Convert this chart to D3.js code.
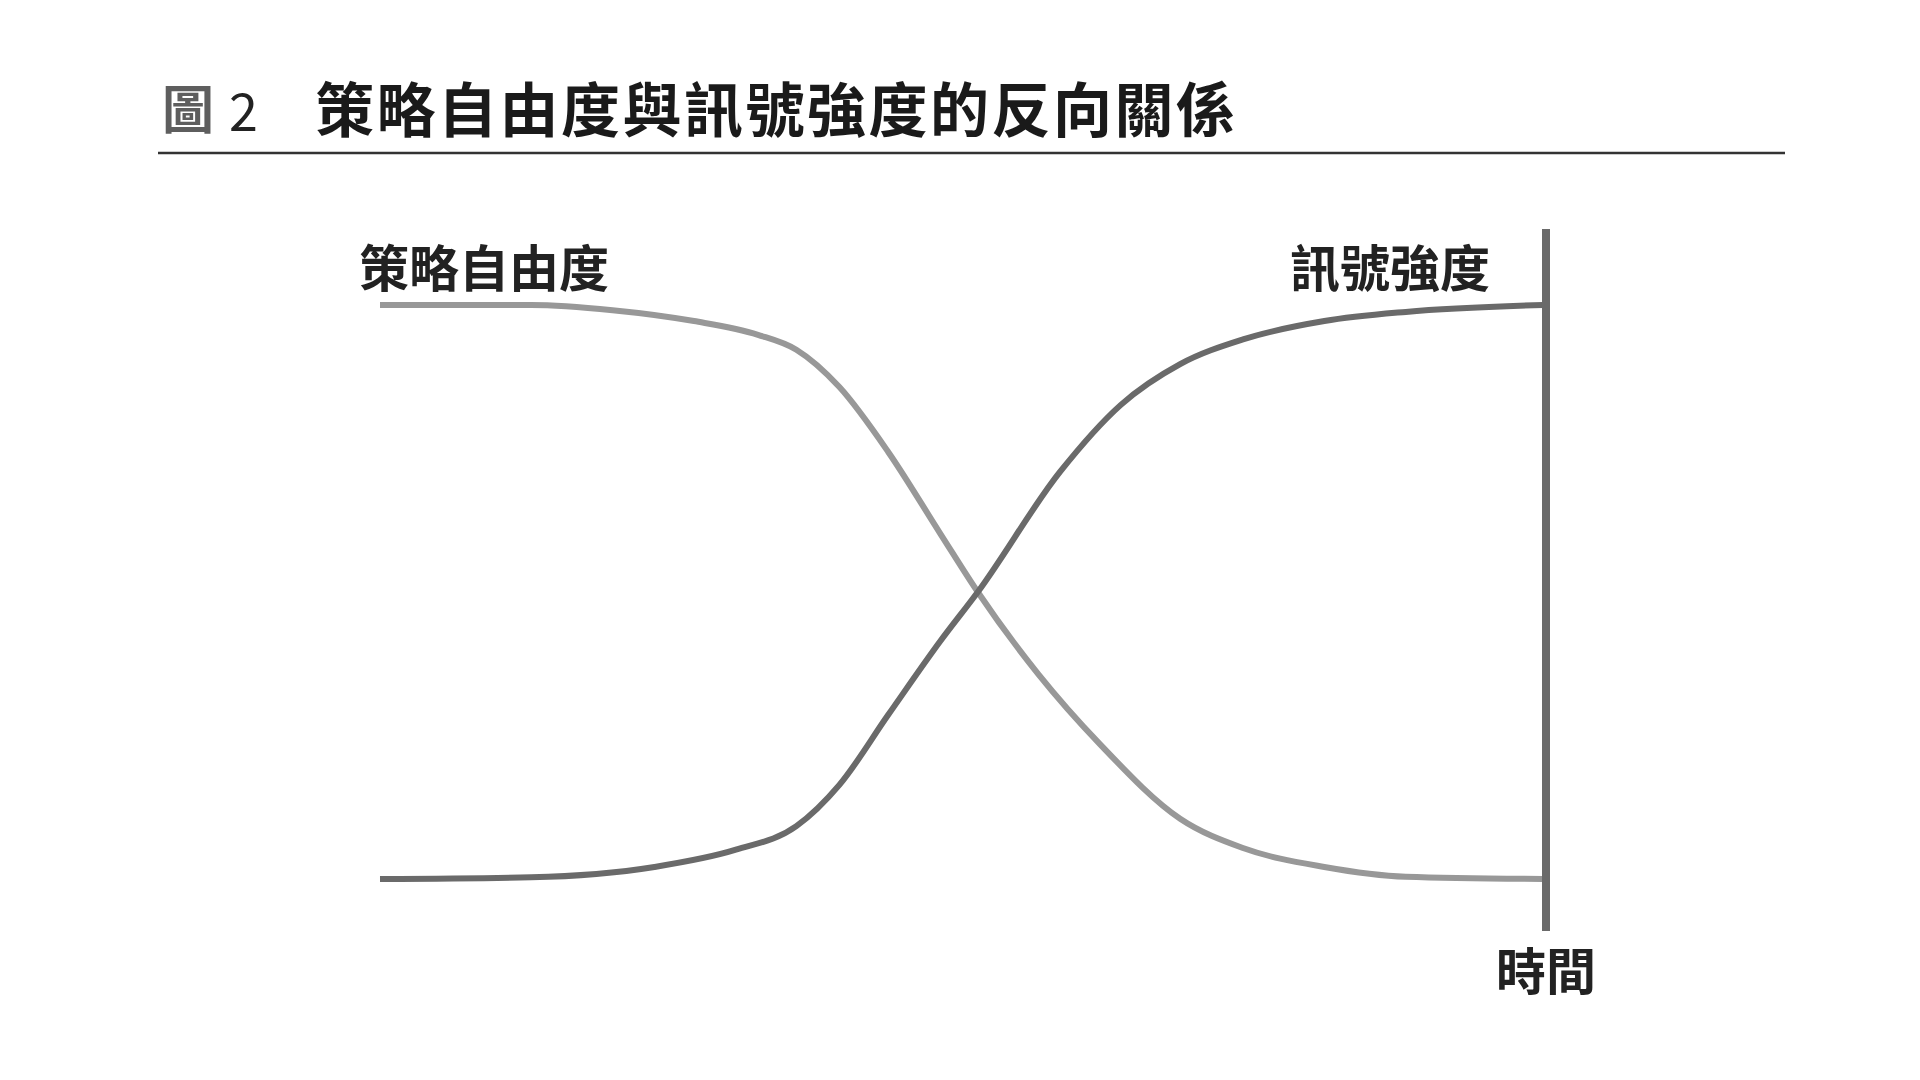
<!DOCTYPE html>
<html>
<head>
<meta charset="utf-8">
<script src="https://cdn.jsdelivr.net/npm/d3@7"></script>
<style>
  html, body { margin: 0; padding: 0; background: #fff; }
  svg { display: block; }
  text { font-family: "Noto Sans CJK TC", "Noto Sans", sans-serif; }
</style>
</head>
<body>
<svg id="chart" width="1920" height="1080"></svg>
<script>
// figure texts
const figMark = "圖";
const figNumber = "2";
const figTitle = "策略自由度與訊號強度的反向關係";
const seriesNames = ["策略自由度", "訊號強度"];
const timeLabel = "時間";

// values (time 0-100, level 0-100)
const freedomTime  = [0, 13, 20, 27, 32.5, 35.8, 39.5, 43.7, 48.2, 51.4, 56.6, 61.9, 68.8, 74.2, 81.2, 88.2, 100];
const freedomLevel = [100, 100, 99.1, 97.2, 94.8, 92.2, 85.7, 74.4, 60.1, 50, 35.7, 23.5, 10.5, 5.4, 2.1, 0.4, 0];

const signalTime  = [0, 13, 23.6, 30.6, 35.8, 39.5, 43.7, 48.2, 51.4, 58.5, 63.7, 68.8, 74.2, 81.2, 88.2, 100];
const signalLevel = [0, 0.3, 2.1, 5.1, 9.2, 16.4, 28.6, 41.5, 50, 71, 82.6, 89.7, 94, 97.2, 98.8, 100];

const WIDTH = 1920;
const HEIGHT = 1080;

const svg = d3.select("#chart");

const x = d3.scaleLinear().domain([0, 100]).range([380, 1543]);
const y = d3.scaleLinear().domain([0, 100]).range([879, 305]);

// title row
svg.append("text")
  .attr("x", 162)
  .attr("y", 106)
  .attr("dominant-baseline", "central")
  .attr("font-size", 52)
  .attr("font-weight", 700)
  .attr("fill", "#5e5e5e")
  .text(figMark);

svg.append("text")
  .attr("x", 229)
  .attr("y", 108)
  .attr("dominant-baseline", "central")
  .attr("font-family", "'Liberation Sans', Arial, sans-serif")
  .attr("font-size", 52)
  .attr("fill", "#222")
  .text(figNumber);

svg.append("text")
  .attr("x", 315)
  .attr("y", 106)
  .attr("dominant-baseline", "central")
  .attr("font-size", 59)
  .attr("font-weight", 700)
  .attr("letter-spacing", 2.5)
  .attr("fill", "#1a1a1a")
  .text(figTitle);

svg.append("line")
  .attr("x1", 158).attr("x2", 1785)
  .attr("y1", 153).attr("y2", 153)
  .attr("stroke", "#333")
  .attr("stroke-width", 2.5);

// curves
const line = d3.line()
  .x(d => x(d[0]))
  .y(d => y(d[1]))
  .curve(d3.curveMonotoneX);

const freedom = d3.zip(freedomTime, freedomLevel);
const signal = d3.zip(signalTime, signalLevel);

svg.append("path")
  .datum(freedom)
  .attr("d", line)
  .attr("fill", "none")
  .attr("stroke", "#989898")
  .attr("stroke-width", 6);

svg.append("path")
  .datum(signal)
  .attr("d", line)
  .attr("fill", "none")
  .attr("stroke", "#6a6a6a")
  .attr("stroke-width", 6);

// time axis (vertical bar at the end)
svg.append("line")
  .attr("x1", x(100) + 3).attr("x2", x(100) + 3)
  .attr("y1", 229).attr("y2", 931)
  .attr("stroke", "#6a6a6a")
  .attr("stroke-width", 8);

// labels
svg.append("text")
  .attr("x", 359)
  .attr("y", 265)
  .attr("dominant-baseline", "central")
  .attr("font-size", 50)
  .attr("font-weight", 700)
  .attr("fill", "#222")
  .text(seriesNames[0]);

svg.append("text")
  .attr("x", 1490)
  .attr("y", 265)
  .attr("text-anchor", "end")
  .attr("dominant-baseline", "central")
  .attr("font-size", 50)
  .attr("font-weight", 700)
  .attr("fill", "#222")
  .text(seriesNames[1]);

svg.append("text")
  .attr("x", x(100) + 3)
  .attr("y", 968)
  .attr("text-anchor", "middle")
  .attr("dominant-baseline", "central")
  .attr("font-size", 50)
  .attr("font-weight", 700)
  .attr("fill", "#222")
  .text(timeLabel);
</script>
</body>
</html>
